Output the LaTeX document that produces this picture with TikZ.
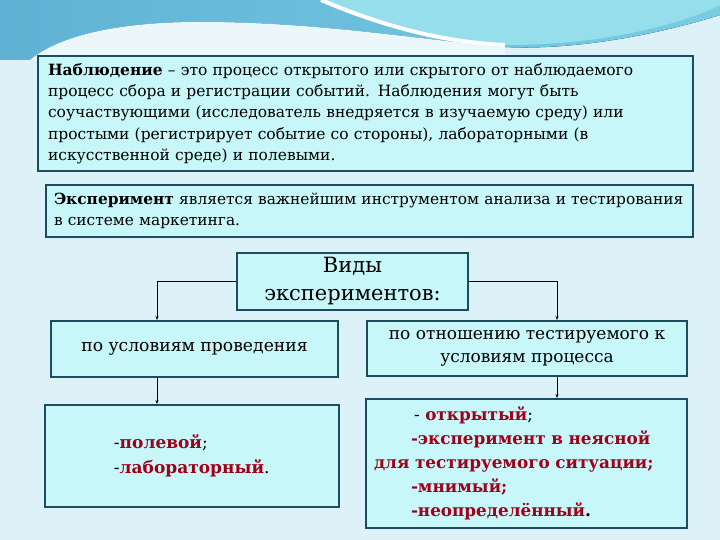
\documentclass[tikz,border=0pt]{standalone}
\usepackage{fontspec}
\setmainfont{DejaVu Serif}
\usetikzlibrary{arrows.meta}
\definecolor{bg}{RGB}{221,242,248}
\definecolor{boxfill}{RGB}{200,247,250}
\definecolor{boxline}{RGB}{28,76,96}
\definecolor{dred}{RGB}{160,0,24}
\definecolor{wave1}{RGB}{96,178,212}
\definecolor{wave2}{RGB}{120,205,228}
\definecolor{wave3}{RGB}{150,222,236}
\begin{document}
\begin{tikzpicture}[x=1pt,y=-1pt,
  box/.style={draw=boxline,line width=2pt,fill=boxfill,anchor=north west,inner sep=0pt},
  conn/.style={draw=black,line width=0.8pt,-{Stealth[length=4pt,width=3pt]}}]
\useasboundingbox (0,0) rectangle (720,540);
\fill[bg] (0,0) rectangle (720,540);
% top waves
\fill[left color=wave1,right color=wave2] (0,0) -- (720,0) -- (720,15)
  .. controls (640,40) and (560,50) .. (505,47)
  .. controls (420,40) and (320,22) .. (200,22)
  .. controls (120,22) and (60,35) .. (30,60) -- (0,60) -- cycle;
\fill[wave3] (321,0) .. controls (380,25) and (440,45) .. (510,45)
  .. controls (600,45) and (680,25) .. (720,5) -- (720,0) -- cycle;
\draw[white,line width=4pt] (321,0) .. controls (380,25) and (440,42) .. (505,45);
\fill[bg!60!white] (30,60) .. controls (60,35) and (120,22) .. (200,22)
  .. controls (320,22) and (420,40) .. (505,47) -- (505,55) -- (30,60) -- cycle;
% boxes
\node[box,minimum width=655,minimum height=115,text width=635,align=left,inner xsep=10pt,
  font=\fontsize{15.5}{21.3}\selectfont] (obs) at (37,55)
 {\textbf{Наблюдение} – это процесс открытого или скрытого  от наблюдаемого\\
 процесс сбора и регистрации событий. Наблюдения могут быть\\
 соучаствующими (исследователь внедряется в изучаемую среду) или\\
 простыми (регистрирует событие со стороны),  лабораторными (в\\
 искусственной среде) и полевыми.};
\node[box,minimum width=647,minimum height=52,text width=631,align=left,inner xsep=8pt,
  font=\fontsize{15.4}{21.5}\selectfont] (exp) at (45,184)
 {\textbf{Эксперимент} является важнейшим инструментом анализа и тестирования\\
 в системе маркетинга.};
\node[box,minimum width=231,minimum height=57,align=center,
  font=\fontsize{21}{28}\selectfont] (kinds) at (236,252)
 {Виды\\экспериментов:};
\node[box,minimum width=287,minimum height=56,align=center,
  font=\fontsize{17.2}{22}\selectfont] (cond) at (50,320)
 {по условиям проведения};
\node[box,minimum width=320,minimum height=55,align=center,
  font=\fontsize{17}{23}\selectfont] (rel) at (366,320)
 {по отношению тестируемого к\\условиям процесса};
\node[box,minimum width=294,minimum height=102,text width=294,align=left,inner xsep=0pt,
  font=\fontsize{17}{25}\selectfont] (field) at (44,404)
 {\hspace*{69pt}-\textbf{\color{dred}полевой};\\
 \hspace*{69pt}-\textbf{\color{dred}лабораторный}.};
\node[box,minimum width=321,minimum height=129,text width=321,align=left,inner xsep=0pt,
  font=\fontsize{16.8}{24}\selectfont] (open) at (365,398)
 {\hspace*{48pt}- \textbf{\color{dred}открытый};\\
 \hspace*{45pt}\textbf{\color{dred}-эксперимент в неясной}\\
 \hspace*{8pt}\textbf{\color{dred}для тестируемого ситуации;}\\
 \hspace*{45pt}\textbf{\color{dred}-мнимый;}\\
 \hspace*{45pt}\textbf{\color{dred}-неопределённый}\textbf{.}};
% connectors
\draw[conn] (kinds.west) -| ([xshift=107pt]cond.north west);
\draw[conn] (kinds.east) -| ([xshift=191pt]rel.north west);
\draw[conn] ([xshift=107pt]cond.south west) -- ([xshift=113pt]field.north west);
\draw[conn] ([xshift=191pt]rel.south west) -- ([xshift=192pt]open.north west);
\end{tikzpicture}
\end{document}
